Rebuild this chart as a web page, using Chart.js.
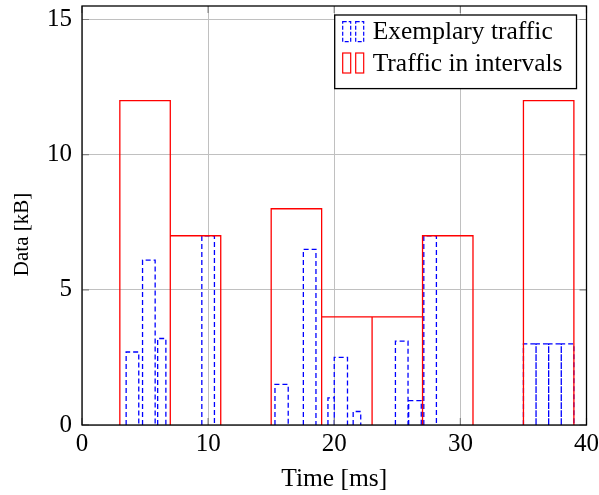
<!DOCTYPE html>
<html>
<head>
<meta charset="utf-8">
<script src="https://cdn.jsdelivr.net/npm/chart.js@4.4.1/dist/chart.umd.min.js"></script>
<style>
    html, body { margin: 0; padding: 0; background: #fff; }
    #wrap { width: 599px; height: 495px; }
</style>
</head>
<body>
<div id="wrap"><canvas id="traffic-chart" width="599" height="495"></canvas></div>
<script>
// traffic.js — packets vs. traffic summed per interval

const FONT = "'Liberation Serif', 'Times New Roman', serif";

const X_TICKS = [0, 10, 20, 30, 40];
const Y_TICKS = [0, 5, 10, 15];
const Y_TITLE = "Data [kB]";

// exemplary traffic: single packets (left edge, right edge, size in kB)
const exLeft  = [3.5, 4.8, 6.0, 9.5, 15.3, 17.55, 19.5, 20.0, 21.5, 24.85, 25.9, 27.1, 35, 36, 37, 38];
const exRight = [4.5, 5.8, 6.65, 10.5, 16.35, 18.55, 20.0, 21.05, 22.1, 25.85, 26.9, 28.1, 36, 37, 38, 39];
const exData  = [2.7, 6.1, 3.2, 7.0, 1.5, 6.5, 1.0, 2.5, 0.5, 3.1, 0.9, 7.0, 3, 3, 3, 3];

// traffic in intervals
const ivLeft  = [3, 7, 15, 19, 23, 27, 35];
const ivRight = [7, 11, 19, 23, 27, 31, 39];
const ivData  = [12, 7, 8, 4, 4, 7, 12];

// outline of each bar as a line path, null between bars breaks the path
function outline(lefts, rights, values) {
    const pts = [];
    for (let i = 0; i < values.length; i++) {
        pts.push({ x: lefts[i],  y: 0 });
        pts.push({ x: lefts[i],  y: values[i] });
        pts.push({ x: rights[i], y: values[i] });
        pts.push({ x: rights[i], y: 0 });
        pts.push({ x: rights[i], y: null });
    }
    return pts;
}

// full frame plus inward tick marks, pgfplots style
const frame = {
    id: "frame",
    afterDatasetsDraw(chart) {
        const { ctx, chartArea: a, scales } = chart;
        ctx.save();
        ctx.strokeStyle = "#808080";
        ctx.lineWidth = 1.2;
        ctx.beginPath();
        X_TICKS.forEach(v => {
            const px = scales.x.getPixelForValue(v);
            ctx.moveTo(px, a.bottom); ctx.lineTo(px, a.bottom - 7);
            ctx.moveTo(px, a.top);    ctx.lineTo(px, a.top + 7);
        });
        Y_TICKS.forEach(v => {
            const py = scales.y.getPixelForValue(v);
            ctx.moveTo(a.left, py);  ctx.lineTo(a.left + 7, py);
            ctx.moveTo(a.right, py); ctx.lineTo(a.right - 7, py);
        });
        ctx.stroke();
        ctx.strokeStyle = "#000";
        ctx.lineWidth = 1.3;
        ctx.strokeRect(a.left, a.top, a.right - a.left, a.bottom - a.top);

        // y axis title, sits a bit below the middle like in the paper figure
        ctx.translate(22, (a.top + a.bottom) / 2 + 19);
        ctx.rotate(-Math.PI / 2);
        ctx.font = `21px ${FONT}`;
        ctx.fillStyle = "#000";
        ctx.textAlign = "center";
        ctx.textBaseline = "middle";
        ctx.fillText(Y_TITLE, 0, 0);
        ctx.restore();
    }
};

// legend box in the top right corner of the plot
const boxLegend = {
    id: "boxLegend",
    afterDraw(chart) {
        const { ctx, chartArea: a } = chart;
        const sets = chart.data.datasets;
        ctx.save();
        ctx.font = `25.5px ${FONT}`;
        const textW = Math.max(...sets.map(d => ctx.measureText(d.label).width));
        const rowH  = 31.3;
        const w     = 38 + textW + 14;
        const h     = rowH * sets.length + 11;
        const right = a.right - 10;
        const left  = right - w;
        const top   = a.top + 9;

        ctx.fillStyle = "#fff";
        ctx.fillRect(left, top, w, h);
        ctx.strokeStyle = "#000";
        ctx.lineWidth = 1.3;
        ctx.strokeRect(left, top, w, h);

        sets.forEach((d, i) => {
            const cy = top + 16.7 + i * rowH;
            ctx.strokeStyle = d.borderColor;
            ctx.lineWidth = 1.2;
            ctx.setLineDash(d.borderDash ? [4, 2] : []);
            ctx.strokeRect(left + 8,  cy - 10, 8, 20);
            ctx.strokeRect(left + 21, cy - 10, 8, 20);
            ctx.setLineDash([]);
            ctx.fillStyle = "#000";
            ctx.textBaseline = "middle";
            ctx.fillText(d.label, left + 38, cy + 1);
        });
        ctx.restore();
    }
};

function noEdgePadding(scale) {
    scale.paddingLeft = 0;
    scale.paddingRight = 0;
    scale.paddingTop = 0;
    scale.paddingBottom = 0;
}

const ctx = document.getElementById("traffic-chart");

new Chart(ctx, {
    type: "line",
    data: {
        datasets: [
            {
                label:       "Exemplary traffic",
                data:        outline(exLeft, exRight, exData),
                borderColor: "#0000ff",
                borderWidth: 1.3,
                borderDash:  [5, 3],
                order:       1,
            },
            {
                label:       "Traffic in intervals",
                data:        outline(ivLeft, ivRight, ivData),
                borderColor: "#ff0000",
                borderWidth: 1.3,
                order:       0,
            }
        ]
    },
    options: {
        responsive:  false,
        animation:   false,
        devicePixelRatio: 1,
        spanGaps:    false,
        elements: {
            point: { radius: 0 },
            line:  { tension: 0, fill: false },
        },
        layout: { padding: { top: 6, right: 12.5, bottom: 0, left: 0 } },
        scales: {
            x: {
                type: "linear",
                min: 0,
                max: 40,
                afterBuildTicks: s => { s.ticks = X_TICKS.map(v => ({ value: v })); },
                afterFit: s => { s.height = 70; noEdgePadding(s); },
                ticks:  { color: "#000", font: { family: FONT, size: 25 }, padding: 4, maxRotation: 0 },
                grid:   { color: "#c0c0c0", lineWidth: 1, drawTicks: false },
                border: { display: false },
                title:  { display: true, text: "Time [ms]", color: "#000",
                          font: { family: FONT, size: 25.5 }, padding: { top: 0, bottom: 0 } },
            },
            y: {
                type: "linear",
                min: 0,
                max: 15.5,
                afterBuildTicks: s => { s.ticks = Y_TICKS.map(v => ({ value: v })); },
                afterFit: s => { s.width = 82; noEdgePadding(s); },
                ticks:  { color: "#000", font: { family: FONT, size: 25 }, padding: 10 },
                grid:   { color: "#c0c0c0", lineWidth: 1, drawTicks: false },
                border: { display: false },
                title:  { display: false },
            }
        },
        plugins: {
            legend:  { display: false },
            tooltip: { enabled: false },
        }
    },
    plugins: [frame, boxLegend]
});
</script>
</body>
</html>
